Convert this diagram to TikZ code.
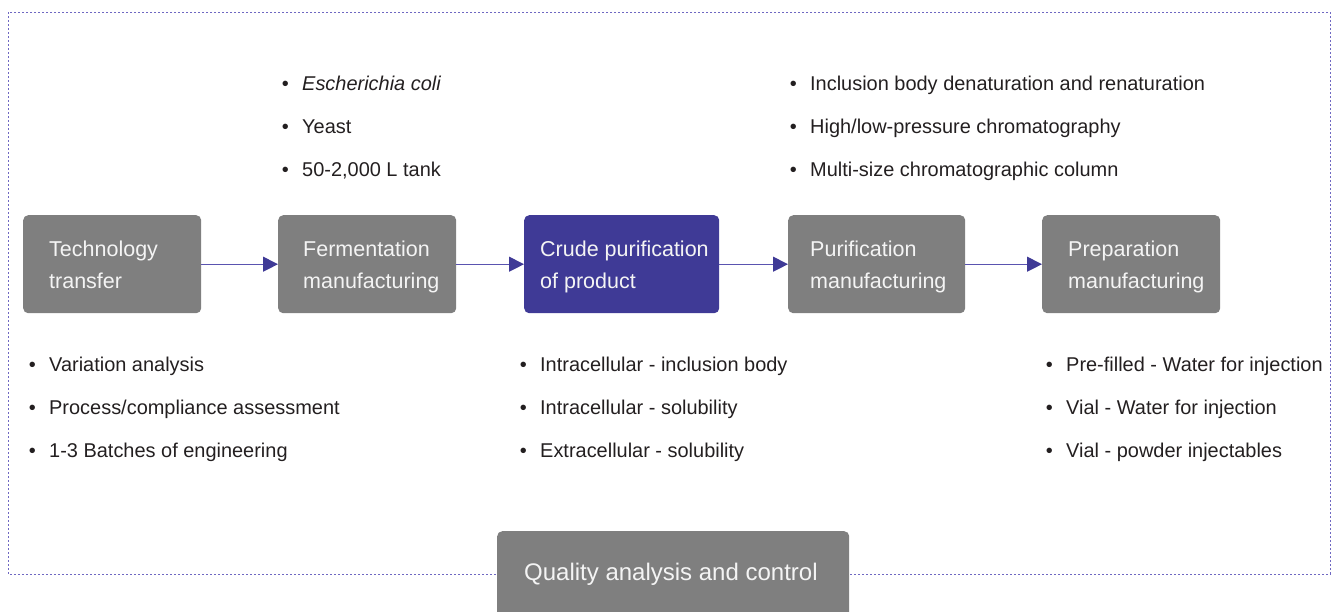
\documentclass[tikz,border=0pt]{standalone}
\usepackage{fontspec}
\setmainfont{Liberation Sans}
\usetikzlibrary{arrows.meta}
\definecolor{boxgray}{HTML}{7F7F7F}
\definecolor{navy}{HTML}{3F3A96}
\definecolor{lineblue}{HTML}{5A54B0}
\definecolor{frameblue}{HTML}{6F68C2}
\definecolor{txt}{HTML}{231F20}
\definecolor{boxtxt}{HTML}{F4F4F4}
\newcommand{\bl}{\makebox[20.4pt][l]{\textbullet}}
\newcommand{\fl}{\rule{0pt}{16pt}}
\begin{document}
\begin{tikzpicture}[x=1pt,y=-1pt,
  stage/.style={draw=none, fill=boxgray, rounded corners=5pt, inner sep=0pt, anchor=north west, minimum height=98pt},
  active/.style={stage, fill=navy},
  boxtext/.style={anchor=north west, inner sep=0pt, text=boxtxt, align=left, font=\fontsize{21.5}{32}\selectfont},
  bullets/.style={anchor=north west, inner sep=0pt, text=txt, align=left, font=\fontsize{19.95}{43}\selectfont},
  flow/.style={draw=lineblue, line width=1.1pt, -{Triangle[length=15pt,width=15pt,fill=navy,color=navy]}},
  frame/.style={draw=frameblue, line width=1pt, dash pattern=on 2pt off 2pt}
]
\useasboundingbox (0,0) rectangle (1338,611);
\clip (0,0) rectangle (1338,611);
\draw[frame] (8,12) rectangle (1330,574);

% stage boxes
\node[stage, minimum width=178pt] (b1) at (23,215) {};
\node[stage, minimum width=178pt] (b2) at (278,215) {};
\node[active, minimum width=195pt] (b3) at (524,215) {};
\node[stage, minimum width=177pt] (b4) at (788,215) {};
\node[stage, minimum width=178pt] (b5) at (1042,215) {};
\node[stage, minimum width=352pt, minimum height=110pt] (q) at (497,531) {};

% box texts
\node[boxtext] (t1) at (49,240.5) {\fl Technology\\transfer};
\node[boxtext] (t2) at (303,240.5) {\fl Fermentation\\manufacturing};
\node[boxtext] (t3) at (540,240.5) {\fl Crude purification\\of product};
\node[boxtext] (t4) at (810,240.5) {\fl Purification\\manufacturing};
\node[boxtext] (t5) at (1068,240.5) {\fl Preparation\\manufacturing};
\node[anchor=base west, inner sep=0pt, text=boxtxt, font=\fontsize{24}{28}\selectfont] (tq) at (524,580.5) {Quality analysis and control};

% connectors
\draw[flow] (b1.east) -- (b2.west);
\draw[flow] (b2.east) -- (b3.west);
\draw[flow] (b3.east) -- (b4.west);
\draw[flow] (b4.east) -- (b5.west);

% bullet lists
\node[bullets] (l2) at (281.6,74.5) {\fl\bl\textit{Escherichia coli}\\\bl Yeast\\\bl 50-2,000 L tank};
\node[bullets] (l4) at (789.6,74.5) {\fl\bl Inclusion body denaturation and renaturation\\\bl High/low-pressure chromatography\\\bl Multi-size chromatographic column};
\node[bullets] (l1) at (28.6,355) {\fl\bl Variation analysis\\\bl Process/compliance assessment\\\bl 1-3 Batches of engineering};
\node[bullets] (l3) at (519.6,355) {\fl\bl Intracellular - inclusion body\\\bl Intracellular - solubility\\\bl Extracellular - solubility};
\node[bullets] (l5) at (1045.6,355) {\fl\bl Pre-filled - Water for injection\\\bl Vial - Water for injection\\\bl Vial - powder injectables};
\end{tikzpicture}
\end{document}
